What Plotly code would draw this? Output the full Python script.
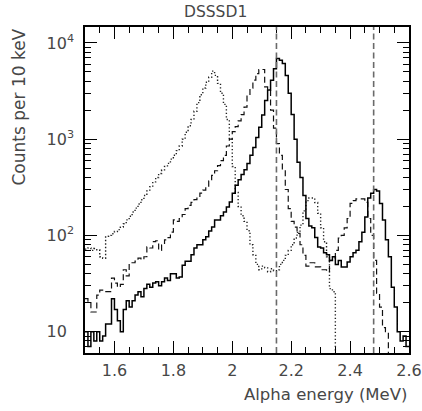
import numpy as np
import plotly.graph_objects as go

# Histogram binning: 10 keV bins starting at 1.50 MeV
e_start = 1.50
bin_width = 0.01

# Counts per 10 keV bin, 1.50 ... 2.59 MeV (left edges)
solid_counts = [
    10, 7, 10, 8, 10, 8, 9, 12, 12, 22,
    17, 13, 10, 17, 21, 18, 21, 24, 26, 23,
    28, 31, 29, 32, 33, 30, 33, 36, 34, 40,
    40, 36, 37, 49, 54, 54, 63, 74, 80, 80,
    90, 97, 111, 122, 145, 145, 160, 175, 197, 222,
    275, 333, 380, 430, 480, 560, 680, 820, 1040, 1330,
    1780, 2530, 3240, 4100, 5400, 6900, 6600, 6100, 4600, 3000,
    1800, 1000, 575, 400, 260, 150, 125, 120, 95, 76,
    74, 66, 63, 55, 60, 50, 55, 47, 47, 53,
    60, 66, 70, 86, 108, 155, 245, 275, 300, 290,
    215, 145, 90, 60, 29, 18, 10, 8, 9, 7,
]
dashed_counts = [
    22, 20, 16, 16, 24, 27, 26, 26, 26, 36,
    32, 29, 31, 44, 38, 52, 52, 54, 58, 56,
    60, 76, 74, 86, 88, 70, 80, 90, 95, 108,
    145, 140, 150, 165, 190, 205, 220, 235, 255, 275,
    295, 320, 370, 420, 470, 530, 600, 680, 850, 1000,
    1200, 1350, 1550, 1800, 2150, 2870, 3400, 4100, 4800, 5300,
    5300, 3500, 3300, 2000, 1300, 900, 680, 480, 300, 190,
    140, 122, 105, 80, 62, 48, 52, 52, 47, 47,
    44, 44, 42, 55, 58, 70, 94, 100, 120, 150,
    215, 230, 240, 240, 240, 220, 150, 100, 55, 25,
    18, 11, 10, 0, 0, 0, 0, 0, 0, 0,
]
dotted_counts = [
    72, 74, 70, 73, 71, 60, 58, 98, 100, 104,
    110, 115, 122, 132, 145, 158, 175, 192, 212, 235,
    260, 290, 320, 360, 400, 440, 480, 520, 560, 620,
    680, 760, 850, 1000, 1180, 1380, 1600, 1950, 2400, 2900,
    3400, 3900, 4400, 5100, 4600, 3800, 3000, 2300, 1600, 1000,
    520, 280, 200, 160, 140, 112, 80, 63, 50, 44,
    48, 46, 42, 45, 43, 44, 50, 55, 62, 70,
    80, 94, 108, 128, 180, 230, 245, 245, 220, 170,
    120, 86, 60, 28, 26, 0, 0, 0, 0, 0,
    0, 0, 0, 0, 0, 0, 0, 0, 0, 0,
    0, 0, 0, 0, 0, 0, 0, 0, 0, 0,
]

# Reference alpha energies (MeV) marked with vertical dashed lines
marker_energies = [2.15, 2.48]

x_tick_vals = [1.6, 1.8, 2.0, 2.2, 2.4, 2.6]
x_tick_text = ["1.6", "1.8", "2", "2.2", "2.4", "2.6"]
y_tick_vals = [10, 100, 1000, 10000]
y_tick_text = [
    "10<sup><span style='color:rgba(0,0,0,0)'>1</span></sup>",
    "10<sup>2</sup>",
    "10<sup>3</sup>",
    "10<sup>4</sup>",
]

FONT = "DejaVu Sans"
TEXT_COLOR = "#474747"


def step_xy(counts):
    counts = np.asarray(counts, dtype=float)
    edges = e_start + bin_width * np.arange(len(counts) + 1)
    # empty bins are pushed below the visible range so the step drops to the frame
    y = np.where(counts > 0, counts, 0.3)
    y = np.append(y, y[-1])
    return edges, y


fig = go.Figure()
styles = [
    (dotted_counts, dict(color="#222222", width=1.4, dash="1.3px,2.2px")),
    (dashed_counts, dict(color="#111111", width=1.2, dash="6px,3.5px")),
    (solid_counts, dict(color="#000000", width=1.5)),
]
for counts, line in styles:
    x, y = step_xy(counts)
    fig.add_trace(go.Scatter(x=x, y=y, mode="lines", line_shape="hv",
                             line=line, hoverinfo="skip"))

for e in marker_energies:
    fig.add_shape(type="line", xref="x", yref="paper", x0=e, x1=e, y0=0, y1=1,
                  line=dict(color="#6a6a6a", width=1.6, dash="6px,3.5px"))

x_minor = [round(1.5 + 0.05 * i, 2) for i in range(23)]
y_minor = [m * 10 ** d for d in range(0, 5) for m in range(2, 10)]

fig.update_xaxes(
    range=[1.5, 2.6], automargin=False,
    tickmode="array", tickvals=x_tick_vals, ticktext=x_tick_text,
    ticks="inside", ticklen=12, tickwidth=1.2, tickcolor="black",
    minor=dict(ticks="inside", ticklen=6, tickwidth=1.2, tickcolor="black",
               tickvals=x_minor),
    showline=True, linewidth=1.5, linecolor="black", mirror="allticks",
    showgrid=False, zeroline=False, ticklabelstandoff=2,
    tickfont=dict(family=FONT, size=16, color=TEXT_COLOR),
)
fig.update_yaxes(
    type="log", range=[np.log10(6.0), np.log10(14650)], automargin=False,
    tickmode="array", tickvals=y_tick_vals, ticktext=y_tick_text,
    ticks="inside", ticklen=12, tickwidth=1.2, tickcolor="black",
    minor=dict(ticks="inside", ticklen=6, tickwidth=1.2, tickcolor="black",
               tickvals=y_minor),
    showline=True, linewidth=1.5, linecolor="black", mirror="allticks",
    showgrid=False, zeroline=False, ticklabelstandoff=6,
    tickfont=dict(family=FONT, size=16, color=TEXT_COLOR),
)

fig.add_annotation(text="DSSSD1", xref="paper", yref="paper",
                   x=(215 - 85) / 324, y=1 + (27 - 12) / 326,
                   xanchor="center", yanchor="middle", showarrow=False,
                   font=dict(family=FONT, size=15.5, color=TEXT_COLOR))
fig.add_annotation(text="Alpha energy (MeV)", xref="paper", yref="paper",
                   x=1, y=(353 - 394) / 326, xanchor="right", yanchor="middle",
                   showarrow=False,
                   font=dict(family=FONT, size=16.5, color=TEXT_COLOR))
fig.add_annotation(text="Counts per 10 keV", xref="paper", yref="paper",
                   x=(18 - 85) / 324, y=1, xanchor="center", yanchor="top",
                   textangle=-90, showarrow=False,
                   font=dict(family=FONT, size=17, color=TEXT_COLOR))

fig.update_layout(
    width=422, height=411,
    margin=dict(l=85, r=13, t=27, b=58),
    paper_bgcolor="white", plot_bgcolor="white",
    showlegend=False,
)

fig.write_html("out.html")
